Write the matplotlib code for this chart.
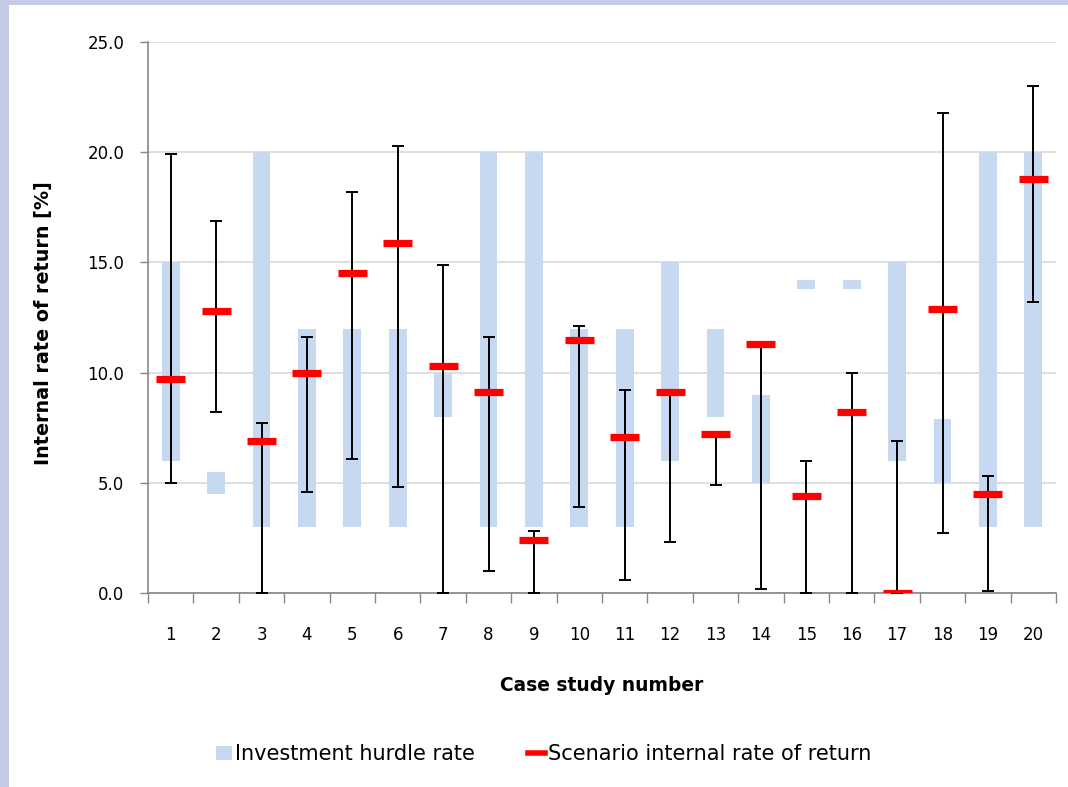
import numpy as np
import matplotlib
matplotlib.use('Agg')
import matplotlib.pyplot as plt
from matplotlib.patches import Patch, Rectangle
from matplotlib.lines import Line2D
from matplotlib.ticker import FormatStrFormatter

# ==========================================
# data
# ==========================================
cases = np.arange(1, 21)
hurdle_low = [6.0, 4.5, 3.0, 3.0, 3.0, 3.0, 8.0, 3.0, 3.0, 3.0,
              3.0, 6.0, 8.0, 5.0, 13.8, 13.8, 6.0, 5.0, 3.0, 3.0]
hurdle_high = [15.0, 5.5, 20.0, 12.0, 12.0, 12.0, 10.0, 20.0, 20.0, 12.0,
               12.0, 15.0, 12.0, 9.0, 14.2, 14.2, 15.0, 7.9, 20.0, 20.0]
irr = [9.7, 12.8, 6.9, 10.0, 14.5, 15.9, 10.3, 9.1, 2.4, 11.5,
       7.1, 9.1, 7.2, 11.3, 4.4, 8.2, 0.0, 12.9, 4.5, 18.8]
irr_high = [19.9, 16.9, 7.7, 11.6, 18.2, 20.3, 14.9, 11.6, 2.8, 12.1,
            9.2, 9.1, 7.2, 11.3, 6.0, 10.0, 6.9, 21.8, 5.3, 23.0]
irr_low = [5.0, 8.2, 0.0, 4.6, 6.1, 4.8, 0.0, 1.0, 0.0, 3.9,
           0.6, 2.3, 4.9, 0.2, 0.0, 0.0, 0.0, 2.7, 0.1, 13.2]
y_ticks = [0, 5, 10, 15, 20, 25]

bar_color = '#c6d9f1'
red = '#ff0000'

fig = plt.figure(figsize=(10.68, 7.87), dpi=100, facecolor='#c3cbe6')
# white panel over the light blue backdrop
fig.patches.append(Rectangle((9 / 1068, 0), 1, 1 - 5 / 787, transform=fig.transFigure,
                             facecolor='white', edgecolor='none', zorder=-10))

ax = fig.add_axes([148 / 1068, 194 / 787, 908 / 1068, 551 / 787])
ax.set_zorder(1)
ax.set_facecolor('white')

lo = np.array(hurdle_low)
hi = np.array(hurdle_high)
ax.bar(cases, hi - lo, bottom=lo, width=0.39, color=bar_color, zorder=2)

r = np.array(irr)
yerr = [r - np.array(irr_low), np.array(irr_high) - r]
ax.errorbar(cases, r, yerr=yerr, fmt='none', ecolor='black', elinewidth=1.4,
            capsize=4.6, capthick=1.4, zorder=3)
ax.hlines(r, cases - 0.32, cases + 0.32, color=red, linewidth=5.2, zorder=4)

ax.set_xlim(0.5, 20.5)
ax.set_ylim(0, 25)
ax.set_yticks(y_ticks)
ax.yaxis.set_major_formatter(FormatStrFormatter('%.1f'))
ax.set_xticks(cases)
ax.set_xticks(np.arange(0.5, 21, 1), minor=True)
ax.tick_params(axis='x', which='major', length=0, pad=24, labelsize=12)
ax.tick_params(axis='x', which='minor', length=7, width=1, color='#868686')
ax.tick_params(axis='y', length=6, width=1, color='#868686', pad=11, labelsize=12)

ax.grid(axis='y', color='#d9d9d9', linewidth=1.2, zorder=0)
ax.set_axisbelow(True)
for s in ['top', 'right']:
    ax.spines[s].set_visible(False)
for s in ['left', 'bottom']:
    ax.spines[s].set_color('#868686')
    ax.spines[s].set_linewidth(1.2)

ax.set_xlabel('Case study number', fontsize=13.4, fontweight='bold', labelpad=23)
ax.set_ylabel('Internal rate of return [%]', fontsize=13.8, fontweight='bold')
ax.yaxis.set_label_coords(-0.1046, 0.49)

handles = [Patch(facecolor=bar_color, edgecolor='none', label='Investment hurdle rate'),
           Line2D([], [], color=red, linewidth=4, label='Scenario internal rate of return')]
fig.legend(handles=handles, loc='center', bbox_to_anchor=(0.509, 0.042), ncol=2,
           frameon=False, fontsize=15, handlelength=0.8, handletextpad=0.15,
           columnspacing=2.55, handleheight=0.65)

plt.savefig('out.png', dpi=100, facecolor=fig.get_facecolor())
